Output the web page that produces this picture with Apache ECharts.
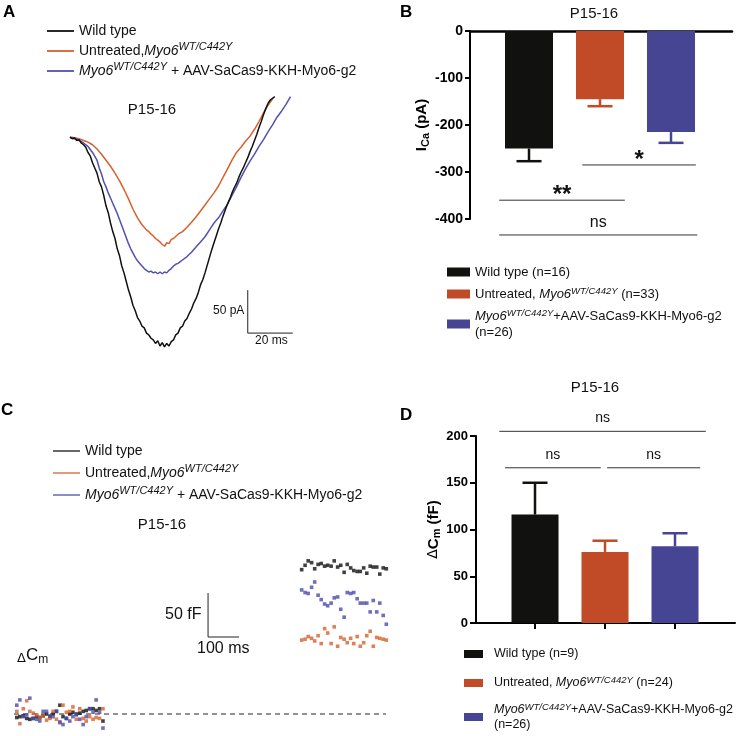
<!DOCTYPE html>
<html><head><meta charset="utf-8">
<script src="https://cdn.jsdelivr.net/npm/echarts@6/dist/echarts.min.js"></script>
<style>html,body{margin:0;padding:0;background:#fff}#c{width:736px;height:736px}</style>
</head><body><div id="c"></div>
<script>
// ---------- DATA ----------
const ageLabel = 'P15-16';
const barPos = [1, 2, 3];
// Panel B: Ca current amplitude (pA)
const ampMean = [-250, -145, -215];
const ampSem = [27, 15, 23];
const ampN = [16, 33, 26];
const ampTicks = [0, -100, -200, -300, -400];
const sigB = ['*', '**', 'ns'];
const sigBFrom = [1.75, 0.58, 0.58];
const sigBTo = [3.35, 2.35, 3.37];
const sigBLevel = [-285, -360, -434];
// Panel D: capacitance change (fF)
const capMean = [116, 76, 82];
const capSem = [34, 12, 14];
const capN = [9, 24, 26];
const capTicks = [0, 50, 100, 150, 200];
const sigD = ['ns', 'ns', 'ns'];
const sigDFrom = [0.49, 0.57, 2.03];
const sigDTo = [3.44, 1.94, 3.36];
const sigDLevel = [205, 166, 166];
// Panel A: Ca current traces [time ms, current pA]
const traceWT = [[0,0],[1,-2],[2,-1],[3,-4],[4,-3],[5,-7],[6,-9],[7,-12],[8,-18],[9,-22],[10,-30],[11,-36],[12,-42],[13,-52],[14,-58],[15,-68],[16,-80],[17,-88],[18,-100],[19,-110],[20,-118],[21,-130],[22,-138],[23,-150],[24,-158],[25,-168],[26,-178],[27,-186],[28,-196],[29,-202],[30,-210],[31,-214],[32,-220],[33,-222],[34,-228],[35,-230],[36,-234],[37,-236],[38,-240],[39,-237],[40,-243],[41,-239],[42,-244],[43,-240],[44,-243],[45,-238],[46,-236],[47,-230],[48,-228],[49,-222],[50,-220],[51,-214],[52,-211],[53,-205],[54,-200],[55,-193],[56,-188],[57,-181],[58,-172],[59,-166],[60,-158],[61,-149],[62,-140],[63,-131],[64,-123],[65,-115],[66,-107],[67,-100],[68,-92],[69,-85],[70,-78],[71,-72],[72,-65],[73,-59],[74,-54],[75,-47],[76,-41],[77,-36],[78,-30],[79,-24],[80,-17],[81,-11],[82,-4],[83,3],[84,11],[85,18],[86,26],[87,33],[88,39],[89,43],[90,45],[91,47]];
const traceUntreated = [[0,0],[2,-1],[4,-2],[6,-4],[8,-6],[10,-9],[12,-14],[14,-20],[16,-27],[18,-34],[20,-42],[22,-51],[24,-61],[26,-72],[28,-84],[30,-94],[32,-102],[34,-108],[35,-110],[36,-113],[37,-115],[38,-118],[39,-120],[40,-122],[41,-125],[42,-127],[43,-123],[44,-124],[45,-119],[46,-118],[48,-113],[50,-110],[52,-105],[54,-99],[56,-93],[58,-86],[60,-79],[62,-72],[64,-65],[66,-57],[68,-47],[70,-37],[72,-27],[74,-18],[76,-12],[78,-5],[80,1],[82,9],[84,18],[86,28],[88,37],[90,44]];
const traceTreated = [[0,-1],[2,-2],[4,-4],[6,-7],[8,-11],[10,-18],[12,-27],[13,-36],[14,-43],[15,-52],[16,-58],[17,-65],[18,-71],[19,-77],[20,-83],[21,-89],[22,-96],[23,-103],[24,-110],[25,-117],[26,-124],[27,-130],[28,-135],[29,-140],[30,-144],[31,-147],[32,-150],[33,-153],[34,-155],[35,-157],[36,-156],[37,-158],[38,-157],[39,-159],[40,-157],[41,-159],[42,-157],[43,-158],[44,-155],[45,-153],[46,-150],[47,-148],[48,-147],[50,-143],[52,-139],[54,-134],[56,-128],[58,-122],[60,-116],[62,-108],[64,-100],[66,-94],[68,-86],[70,-78],[72,-68],[74,-58],[76,-47],[78,-37],[80,-28],[82,-20],[84,-11],[86,-3],[88,6],[90,14],[92,23],[94,30],[96,38],[98,47]];
const scaleBarA = [[79,-178],[79,-228],[99,-228]];
// Panel C: capacitance samples (time ms, fF)
const cmTimeBefore = [9,19,30,41,51,62,73,83,94,105,116,126,137,148,158,169,180,190,201,212,223,233,244,255,265,276,287];
const cmTimeAfter = [928,939,949,960,970,981,991,1002,1012,1023,1033,1044,1054,1065,1075,1086,1096,1107,1117,1128,1138,1149,1159,1170,1180,1191,1201];
const cmWTBefore = [-4,-3,-2,-5,-6,-5,-3,-4,-2,0,-3,0,3,10,-3,-5,0,2,0,1,3,4,6,6,4,6,-8];
const cmUntBefore = [3,-11,6,15,3,1,-1,-4,-2,-7,-5,3,-6,-10,10,2,3,8,-6,6,-5,-8,-3,-6,-4,-5,6];
const cmTrBefore = [10,16,-3,-1,18,-5,-6,-8,3,3,-2,-3,3,-9,-12,-5,-8,-3,-1,-6,-12,-3,6,2,16,2,-16];
const cmWTAfter = [164,169,174,172,165,170,171,168,169,168,174,167,169,161,170,166,163,162,162,166,160,168,167,167,159,166,165];
const cmUntAfter = [84,85,88,86,83,89,80,97,92,80,99,77,87,85,81,86,80,88,77,81,89,94,77,87,86,85,84];
const cmTrAfter = [141,138,137,144,150,135,130,125,123,126,132,133,119,110,138,137,138,131,126,126,126,116,129,116,126,112,102];
const cmBaseline = [[0,0],[1200,0]];
const scaleBarC = [[626,137.5],[626,87.5],[726,87.5]];

// ---------- STYLE ----------
const FONT = 'Liberation Sans, Arial, Helvetica, sans-serif';
const barColors = ['#11110f', '#c04b26', '#454594'];
const lineColors = ['#111111', '#d4622f', '#5151b0'];
const dotColors = ['#111111', '#d4622f', '#4b4baa'];

const pairs = (ts, vs) => ts.map((t, i) => [t, vs[i]]);
const legendNames = {
  'A-wt': 'Wild type',
  'A-un': 'Untreated,{it|Myo6}{sup|WT/C442Y}',
  'A-tr': '{it|Myo6}{sup|WT/C442Y} + AAV-SaCas9-KKH-Myo6-g2',
  'B-wt': 'Wild type (n=' + ampN[0] + ')',
  'B-un': 'Untreated, {it|Myo6}{sup|WT/C442Y} (n=' + ampN[1] + ')',
  'B-tr': '{it|Myo6}{sup|WT/C442Y}+AAV-SaCas9-KKH-Myo6-g2\n(n=' + ampN[2] + ')',
  'D-wt': 'Wild type (n=' + capN[0] + ')',
  'D-un': 'Untreated, {it|Myo6}{sup|WT/C442Y} (n=' + capN[1] + ')',
  'D-tr': '{it|Myo6}{sup|WT/C442Y}+AAV-SaCas9-KKH-Myo6-g2\n(n=' + capN[2] + ')'
};
legendNames['C-wt'] = legendNames['A-wt'];
legendNames['C-un'] = legendNames['A-un'];
legendNames['C-tr'] = legendNames['A-tr'];
const fmt = n => legendNames[n];

function richFor(size, lh, supSize) {
  return {
    it: {fontStyle: 'italic', fontSize: size, lineHeight: lh, fontFamily: FONT, color: '#111'},
    sup: {fontStyle: 'italic', fontSize: supSize, lineHeight: supSize, verticalAlign: 'top', fontFamily: FONT, color: '#111'}
  };
}

function errRender(params, api) {
  const x = api.value(0), m = api.value(1), e = api.value(2);
  const end = m < 0 ? m - e : m + e;
  const p0 = api.coord([x, m]), p1 = api.coord([x, end]);
  const color = barColors[params.dataIndex];
  return {type: 'group', children: [
    {type: 'line', shape: {x1: p0[0], y1: p0[1], x2: p1[0], y2: p1[1]}, style: {stroke: color, lineWidth: 2.5}},
    {type: 'line', shape: {x1: p1[0] - 12.5, y1: p1[1], x2: p1[0] + 12.5, y2: p1[1]}, style: {stroke: color, lineWidth: 2.5}}
  ]};
}
function bracketRender(labels, nsSize, nsLift) {
  return function (params, api) {
    const a = api.coord([api.value(0), api.value(2)]);
    const b = api.coord([api.value(1), api.value(2)]);
    const lab = labels[params.dataIndex];
    const star = lab.indexOf('*') >= 0;
    return {type: 'group', children: [
      {type: 'line', shape: {x1: a[0], y1: a[1], x2: b[0], y2: b[1]}, style: {stroke: '#333', lineWidth: 1}},
      {type: 'text', x: (a[0] + b[0]) / 2, y: star ? a[1] + 7 : a[1] - nsLift,
       style: {text: lab, fontSize: star ? 24 : nsSize, fontWeight: star ? 'bold' : 'normal',
               fontFamily: FONT, fill: '#111', align: 'center', verticalAlign: 'bottom'}}
    ]};
  };
}

const chart = echarts.init(document.getElementById('c'), null, {renderer: 'canvas'});
const titleStyle = {fontFamily: FONT, fontSize: 15, fontWeight: 'normal', color: '#111'};
const letterStyle = {fontFamily: FONT, fontSize: 17, fontWeight: 'bold', color: '#000'};
const dText = {fontSize: 12.5, lineHeight: 16, color: '#111', fontFamily: FONT, padding: [0, 0, 0, 6], rich: richFor(12.5, 16, 9.5)};

const option = {
  animation: false,
  backgroundColor: '#fff',
  textStyle: {fontFamily: FONT},
  title: [
    {text: 'A', left: 3, top: 4, padding: 0, textStyle: letterStyle},
    {text: 'B', left: 400, top: 4, padding: 0, textStyle: letterStyle},
    {text: 'C', left: 1, top: 402, padding: 0, textStyle: letterStyle},
    {text: 'D', left: 400, top: 407, padding: 0, textStyle: letterStyle},
    {text: ageLabel, left: 152, top: 102, padding: 0, textAlign: 'center', textStyle: titleStyle},
    {text: ageLabel, left: 594, top: 6, padding: 0, textAlign: 'center', textStyle: titleStyle},
    {text: ageLabel, left: 162, top: 517, padding: 0, textAlign: 'center', textStyle: titleStyle},
    {text: ageLabel, left: 595, top: 380, padding: 0, textAlign: 'center', textStyle: titleStyle}
  ],
  legend: [
    {data: ['A-wt', 'A-un', 'A-tr'], orient: 'vertical', left: 47, top: 21, itemGap: 0, padding: 0,
     icon: 'rect', itemWidth: 27, itemHeight: 1.8, selectedMode: false, formatter: fmt,
     textStyle: {fontSize: 14, lineHeight: 20, color: '#111', fontFamily: FONT, rich: richFor(14, 20, 11)}},
    {data: ['C-wt', 'C-un', 'C-tr'], orient: 'vertical', left: 53, top: 441, itemGap: 2, padding: 0,
     icon: 'rect', itemWidth: 27, itemHeight: 1.6, selectedMode: false, formatter: fmt,
     textStyle: {fontSize: 14, lineHeight: 20, color: '#111', fontFamily: FONT, rich: richFor(14, 20, 11)}},
    {data: ['B-wt', 'B-un', 'B-tr'], orient: 'vertical', left: 447, top: 264, itemGap: 6, padding: 0,
     icon: 'rect', itemWidth: 23, itemHeight: 9, selectedMode: false, formatter: fmt,
     textStyle: {fontSize: 13, lineHeight: 16, color: '#111', fontFamily: FONT, rich: richFor(13, 16, 9.5)}},
    {data: ['D-wt'], orient: 'vertical', left: 464, top: 646, padding: 0, icon: 'rect', itemWidth: 19, itemHeight: 8,
     selectedMode: false, formatter: fmt, textStyle: dText},
    {data: ['D-un'], orient: 'vertical', left: 464, top: 675, padding: 0, icon: 'rect', itemWidth: 19, itemHeight: 8,
     selectedMode: false, formatter: fmt, textStyle: dText},
    {data: ['D-tr'], orient: 'vertical', left: 464, top: 702, padding: 0, icon: 'rect', itemWidth: 19, itemHeight: 8,
     selectedMode: false, formatter: fmt,
     textStyle: {fontSize: 12.5, lineHeight: 15, color: '#111', fontFamily: FONT, padding: [0, 0, 0, 6], rich: richFor(12.5, 15, 9.5)}}
  ],
  grid: [
    {left: 70, top: 85.4, width: 236.25, height: 266.6},   // A
    {left: 470, top: 31, width: 262, height: 188},         // B
    {left: 14, top: 538, width: 387.5, height: 198},       // C
    {left: 476, top: 436, width: 259, height: 187}         // D
  ],
  xAxis: [
    {gridIndex: 0, type: 'value', min: 0, max: 105, show: false},
    {gridIndex: 1, type: 'value', min: 0.169, max: 3.859,
     axisLine: {show: true, onZero: true, lineStyle: {color: '#000', width: 2.5}},
     axisTick: {show: false}, axisLabel: {show: false}, splitLine: {show: false}},
    {gridIndex: 2, type: 'value', min: 0, max: 1250, show: false},
    {gridIndex: 3, type: 'value', min: 0.157, max: 3.857,
     axisLine: {show: true, onZero: false, lineStyle: {color: '#000', width: 2}},
     axisTick: {show: true, customValues: barPos, length: 6, lineStyle: {color: '#000', width: 2}},
     axisLabel: {show: false}, splitLine: {show: false}}
  ],
  yAxis: [
    {gridIndex: 0, type: 'value', min: -250, max: 60, show: false},
    {gridIndex: 1, type: 'value', min: ampTicks[ampTicks.length - 1], max: ampTicks[0], interval: 100,
     axisLine: {show: true, onZero: false, lineStyle: {color: '#000', width: 2}},
     axisTick: {show: true, length: 5, lineStyle: {color: '#000', width: 2}},
     axisLabel: {color: '#000', fontWeight: 'bold', fontSize: 14, margin: 7, fontFamily: FONT},
     splitLine: {show: false},
     name: '{b|I}{s|Ca}{b| (pA)}', nameLocation: 'middle', nameRotate: 90, nameGap: 37,
     nameTextStyle: {rich: {
       b: {fontSize: 15, fontWeight: 'bold', lineHeight: 18, color: '#000', fontFamily: FONT},
       s: {fontSize: 11, fontWeight: 'bold', lineHeight: 11, verticalAlign: 'bottom', color: '#000', fontFamily: FONT}}}},
    {gridIndex: 2, type: 'value', min: -25, max: 200, show: false},
    {gridIndex: 3, type: 'value', min: capTicks[0], max: capTicks[capTicks.length - 1], interval: 50,
     axisLine: {show: true, onZero: false, lineStyle: {color: '#000', width: 2}},
     axisTick: {show: true, length: 6, lineStyle: {color: '#000', width: 2}},
     axisLabel: {color: '#000', fontWeight: 'bold', fontSize: 13, margin: 8, fontFamily: FONT},
     splitLine: {show: false},
     name: '{d|Δ}{b|C}{s|m}{b| (fF)}', nameLocation: 'middle', nameRotate: 90, nameGap: 30,
     nameTextStyle: {rich: {
       d: {fontSize: 14, lineHeight: 18, color: '#000', fontFamily: 'DejaVu Sans, sans-serif'},
       b: {fontSize: 15, fontWeight: 'bold', lineHeight: 18, color: '#000', fontFamily: FONT},
       s: {fontSize: 11, fontWeight: 'bold', lineHeight: 11, verticalAlign: 'bottom', color: '#000', fontFamily: FONT}}}}
  ],
  graphic: [
    {type: 'text', left: 213, top: 305, style: {text: '50 pA', fontSize: 12, fontFamily: FONT, fill: '#111'}},
    {type: 'text', left: 255, top: 335, style: {text: '20 ms', fontSize: 12, fontFamily: FONT, fill: '#111'}},
    {type: 'text', left: 165, top: 607, style: {text: '50 fF', fontSize: 16, fontFamily: FONT, fill: '#111'}},
    {type: 'text', left: 197, top: 641, style: {text: '100 ms', fontSize: 16, fontFamily: FONT, fill: '#111'}},
    {type: 'text', left: 17, top: 647, style: {text: '{d|Δ}{c|C}{m|m}', fontFamily: FONT, fill: '#111',
      rich: {d: {fontSize: 13, lineHeight: 20, verticalAlign: 'bottom', fontFamily: 'DejaVu Sans, sans-serif'},
             c: {fontSize: 17, lineHeight: 20, fontFamily: FONT},
             m: {fontSize: 12, lineHeight: 12, verticalAlign: 'bottom', fontFamily: FONT}}}}
  ],
  series: [
    // Panel A
    {name: 'A-wt', type: 'line', xAxisIndex: 0, yAxisIndex: 0, data: traceWT, showSymbol: false,
     color: lineColors[0], lineStyle: {width: 1.5}, z: 3},
    {name: 'A-un', type: 'line', xAxisIndex: 0, yAxisIndex: 0, data: traceUntreated, showSymbol: false,
     color: lineColors[1], lineStyle: {width: 1.5}, z: 2},
    {name: 'A-tr', type: 'line', xAxisIndex: 0, yAxisIndex: 0, data: traceTreated, showSymbol: false,
     color: lineColors[2], lineStyle: {width: 1.5}, z: 2},
    {name: 'A-scale', type: 'line', xAxisIndex: 0, yAxisIndex: 0, data: scaleBarA, showSymbol: false,
     color: '#222', lineStyle: {width: 1}, silent: true},
    // Panel B
    {name: 'B-wt', type: 'bar', xAxisIndex: 1, yAxisIndex: 1, data: [[barPos[0], ampMean[0]]],
     barWidth: 48, barGap: '-100%', color: barColors[0]},
    {name: 'B-un', type: 'bar', xAxisIndex: 1, yAxisIndex: 1, data: [[barPos[1], ampMean[1]]],
     barWidth: 48, barGap: '-100%', color: barColors[1]},
    {name: 'B-tr', type: 'bar', xAxisIndex: 1, yAxisIndex: 1, data: [[barPos[2], ampMean[2]]],
     barWidth: 48, barGap: '-100%', color: barColors[2]},
    {name: 'B-err', type: 'custom', xAxisIndex: 1, yAxisIndex: 1, renderItem: errRender, z: 5,
     data: barPos.map((p, i) => [p, ampMean[i], ampSem[i]])},
    {name: 'B-sig', type: 'custom', xAxisIndex: 1, yAxisIndex: 1, renderItem: bracketRender(sigB, 16, 4), z: 5,
     data: sigB.map((s, i) => [sigBFrom[i], sigBTo[i], sigBLevel[i]])},
    // Panel C
    {name: 'C-base', type: 'line', xAxisIndex: 2, yAxisIndex: 2, data: cmBaseline, showSymbol: false,
     color: '#6f6f6f', lineStyle: {width: 1.5, type: [5, 4]}, silent: true, z: 1},
    {name: 'C-wt', type: 'scatter', xAxisIndex: 2, yAxisIndex: 2, symbol: 'rect', symbolSize: 3.6,
     color: dotColors[0], data: pairs(cmTimeBefore, cmWTBefore).concat(pairs(cmTimeAfter, cmWTAfter)), z: 3},
    {name: 'C-un', type: 'scatter', xAxisIndex: 2, yAxisIndex: 2, symbol: 'rect', symbolSize: 3.6,
     color: dotColors[1], data: pairs(cmTimeBefore, cmUntBefore).concat(pairs(cmTimeAfter, cmUntAfter)), z: 3},
    {name: 'C-tr', type: 'scatter', xAxisIndex: 2, yAxisIndex: 2, symbol: 'rect', symbolSize: 3.6,
     color: dotColors[2], data: pairs(cmTimeBefore, cmTrBefore).concat(pairs(cmTimeAfter, cmTrAfter)), z: 3},
    {name: 'C-scale', type: 'line', xAxisIndex: 2, yAxisIndex: 2, data: scaleBarC, showSymbol: false,
     color: '#222', lineStyle: {width: 1}, silent: true},
    // Panel D
    {name: 'D-wt', type: 'bar', xAxisIndex: 3, yAxisIndex: 3, data: [[barPos[0], capMean[0]]],
     barWidth: 47, barGap: '-100%', color: barColors[0]},
    {name: 'D-un', type: 'bar', xAxisIndex: 3, yAxisIndex: 3, data: [[barPos[1], capMean[1]]],
     barWidth: 47, barGap: '-100%', color: barColors[1]},
    {name: 'D-tr', type: 'bar', xAxisIndex: 3, yAxisIndex: 3, data: [[barPos[2], capMean[2]]],
     barWidth: 47, barGap: '-100%', color: barColors[2]},
    {name: 'D-err', type: 'custom', xAxisIndex: 3, yAxisIndex: 3, renderItem: errRender, z: 5,
     data: barPos.map((p, i) => [p, capMean[i], capSem[i]])},
    {name: 'D-sig', type: 'custom', xAxisIndex: 3, yAxisIndex: 3, renderItem: bracketRender(sigD, 14, 6), z: 5,
     data: sigD.map((s, i) => [sigDFrom[i], sigDTo[i], sigDLevel[i]])}
  ]
};
chart.setOption(option);
</script>
</body></html>
